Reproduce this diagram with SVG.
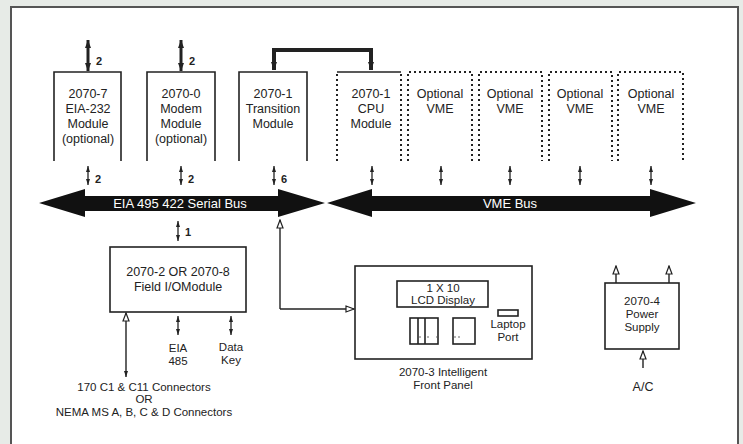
<svg xmlns="http://www.w3.org/2000/svg" width="743" height="444" viewBox="0 0 743 444">
<defs>
<style>
text{font-family:"Liberation Sans",Arial,sans-serif;fill:#222;text-anchor:middle}
.t{font-size:12.5px}
.s{font-size:11.5px}
.c{font-size:11.5px}
.n{font-size:11px;font-weight:bold;text-anchor:start}
.w{fill:#fff;font-size:13px}
.box{fill:none;stroke:#222;stroke-width:1.6}
.dot{fill:none;stroke:#222;stroke-width:2;stroke-dasharray:2 3}
.thick{fill:none;stroke:#222;stroke-width:3;marker-start:url(#big);marker-end:url(#big)}
.conn{fill:none;stroke:#222;stroke-width:4;marker-start:url(#big);marker-end:url(#big)}
.sm{fill:none;stroke:#222;stroke-width:1.3;marker-start:url(#small);marker-end:url(#small)}
.op{fill:none;stroke:#222;stroke-width:1.4;marker-end:url(#open)}
.bus{fill:#111}
</style>
<marker id="big" viewBox="0 0 8 6" refX="8" refY="3" markerWidth="8" markerHeight="6" markerUnits="userSpaceOnUse" orient="auto-start-reverse"><path d="M0,0 L8,3 L0,6 z" fill="#222"/></marker>
<marker id="small" viewBox="0 0 6 4" refX="6" refY="2" markerWidth="6" markerHeight="4" markerUnits="userSpaceOnUse" orient="auto-start-reverse"><path d="M0,0 L6,2 L0,4 z" fill="#222"/></marker>
<marker id="open" viewBox="-1 -1 10 8" refX="8" refY="3" markerWidth="10" markerHeight="8" markerUnits="userSpaceOnUse" orient="auto-start-reverse"><path d="M0,0 L8,3 L0,6 z" fill="#fff" stroke="#222" stroke-width="1.2"/></marker>
</defs>
<rect x="0" y="0" width="743" height="444" fill="#e7ebe7"/>
<rect x="11" y="7" width="727" height="460" fill="#fff" stroke="#555" stroke-width="2"/>

<g id="connectors">
<path class="thick" d="M88,40 V71"/>
<path class="thick" d="M181,40 V71"/>
<path class="conn" d="M274,70 V50 H371 V70"/>
<path class="sm" d="M88,166 V185"/>
<path class="sm" d="M181,166 V185"/>
<path class="sm" d="M274,166 V185"/>
<path class="sm" d="M372,166 V185"/>
<path class="sm" d="M441,166 V185"/>
<path class="sm" d="M510,166 V185"/>
<path class="sm" d="M580,166 V185"/>
<path class="sm" d="M651,166 V185"/>
<path class="sm" d="M178,221 V241"/>
<path class="op" d="M280,309 V220"/>
<path class="op" d="M280,309 H354"/>
<path class="sm" d="M178,316 V335"/>
<path class="sm" d="M231,316 V335"/>
<path fill="none" stroke="#222" stroke-width="1.4" marker-start="url(#open)" marker-end="url(#small)" d="M126,313 V377"/>
<path class="op" d="M616,283 V266"/>
<path class="op" d="M669,283 V266"/>
<path class="op" d="M643,368 V351"/>
<text class="n" x="96" y="65">2</text>
<text class="n" x="189" y="65">2</text>
<text class="n" x="95" y="183">2</text>
<text class="n" x="188" y="183">2</text>
<text class="n" x="281" y="183">6</text>
<text class="n" x="185" y="236">1</text>
</g>

<g id="serial-bus">
<polygon class="bus" points="39,203 85,189 85,196 278,196 278,189 325,203 278,217 278,211 85,211 85,217"/>
<text class="w" x="180" y="208">EIA 495 422 Serial Bus</text>
</g>
<g id="vme-bus">
<polygon class="bus" points="327,203 372,189 372,196 650,196 650,189 696,203 650,217 650,211 372,211 372,217"/>
<text class="w" x="510" y="208">VME Bus</text>
</g>

<g id="eia232">
<path class="box" d="M54,161 V72 H121 V161"/>
<text class="t" x="88" y="98">2070-7</text>
<text class="t" x="88" y="113">EIA-232</text>
<text class="t" x="88" y="128">Module</text>
<text class="t" x="88" y="143">(optional)</text>
</g>
<g id="modem">
<path class="box" d="M147,161 V72 H215 V161"/>
<text class="t" x="181" y="98">2070-0</text>
<text class="t" x="181" y="113">Modem</text>
<text class="t" x="181" y="128">Module</text>
<text class="t" x="181" y="143">(optional)</text>
</g>
<g id="transition">
<path class="box" d="M239,161 V72 H307 V161"/>
<text class="t" x="273" y="98">2070-1</text>
<text class="t" x="273" y="113">Transition</text>
<text class="t" x="273" y="128">Module</text>
</g>
<g id="cpu">
<path class="box" d="M337,72 H401"/>
<path class="dot" d="M337,74 V161 M401,74 V161"/>
<text class="t" x="371" y="98">2070-1</text>
<text class="t" x="371" y="113">CPU</text>
<text class="t" x="371" y="128">Module</text>
</g>
<g id="vme1">
<path class="dot" d="M408,161 V72 H472 V161"/>
<text class="t" x="440" y="98">Optional</text>
<text class="t" x="440" y="113">VME</text>
</g>
<g id="vme2">
<path class="dot" d="M479,161 V72 H542 V161"/>
<text class="t" x="510" y="98">Optional</text>
<text class="t" x="510" y="113">VME</text>
</g>
<g id="vme3">
<path class="dot" d="M549,161 V72 H612 V161"/>
<text class="t" x="580" y="98">Optional</text>
<text class="t" x="580" y="113">VME</text>
</g>
<g id="vme4">
<path class="dot" d="M618,161 V72 H683 V161"/>
<text class="t" x="651" y="98">Optional</text>
<text class="t" x="651" y="113">VME</text>
</g>

<g id="field-io">
<rect class="box" x="110" y="247" width="136" height="65"/>
<text class="t" x="178" y="276">2070-2 OR 2070-8</text>
<text class="t" x="178" y="291">Field I/OModule</text>
</g>
<g id="field-labels">
<text class="s" x="178" y="352">EIA</text>
<text class="s" x="178" y="365">485</text>
<text class="s" x="231" y="351">Data</text>
<text class="s" x="231" y="364">Key</text>
<text class="c" x="144" y="391">170 C1 &amp; C11 Connectors</text>
<text class="c" x="144" y="403">OR</text>
<text class="c" x="144" y="416">NEMA MS A, B, C &amp; D Connectors</text>
</g>

<g id="front-panel">
<rect class="box" x="355" y="266" width="177" height="93"/>
<rect class="box" x="397" y="281" width="91" height="26"/>
<text class="s" x="443" y="292">1 X 10</text>
<text class="s" x="443" y="304">LCD Display</text>
<rect class="box" x="410" y="318" width="28" height="26"/>
<path class="box" d="M418,318 V344 M425,318 V344"/>
<rect class="box" x="453" y="318" width="22" height="26"/>
<g fill="#555"><circle cx="420" cy="337" r="0.8"/><circle cx="428" cy="337" r="0.8"/><circle cx="437" cy="337" r="0.8"/><circle cx="455" cy="337" r="0.8"/><circle cx="459" cy="337" r="0.8"/></g>
<rect class="box" x="498" y="310" width="20" height="6"/>
<text class="s" x="508" y="328">Laptop</text>
<text class="s" x="508" y="341">Port</text>
<text class="s" x="443" y="376">2070-3 Intelligent</text>
<text class="s" x="443" y="389">Front Panel</text>
</g>

<g id="power-supply">
<rect class="box" x="605" y="283" width="74" height="66"/>
<text class="s" x="642" y="305">2070-4</text>
<text class="s" x="642" y="318">Power</text>
<text class="s" x="642" y="331">Supply</text>
<text class="t" x="643" y="391">A/C</text>
</g>
</svg>
